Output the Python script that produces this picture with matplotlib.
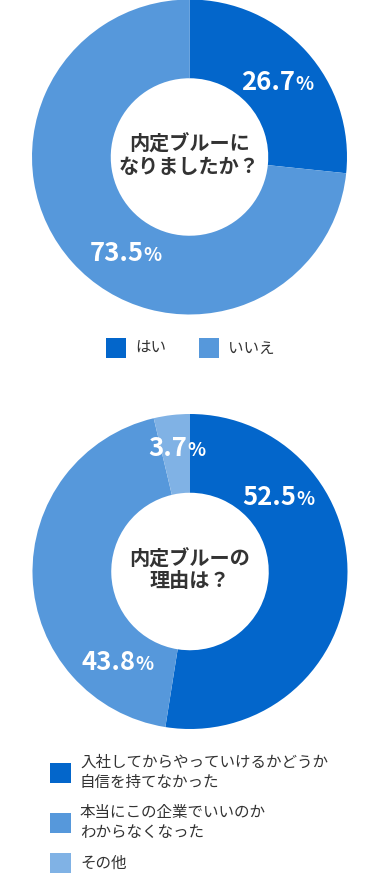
import matplotlib
matplotlib.use("Agg")
import matplotlib.pyplot as plt
from matplotlib.patches import Rectangle
from matplotlib.offsetbox import TextArea, HPacker, AnnotationBbox

plt.rcParams['font.family'] = ['Noto Sans CJK JP', 'DejaVu Sans']

# ---- data ----
q1_title = "内定ブルーに\nなりましたか？"
q1_labels = ["はい", "いいえ"]
q1_values = [26.7, 73.5]
q1_colors = ["#0366CB", "#5698DB"]

q2_title = "内定ブルーの\n理由は？"
q2_labels = ["入社してからやっていけるかどうか\n自信を持てなかった",
             "本当にこの企業でいいのか\nわからなくなった",
             "その他"]
q2_values = [52.5, 43.8, 3.7]
q2_colors = ["#0366CB", "#5698DB", "#80B2E5"]

W, H = 379, 874
DPI = 100
fig = plt.figure(figsize=(W / DPI, H / DPI), dpi=DPI)
fig.patch.set_facecolor("white")

R = 157.5


def donut(cx, cy, values, colors, title, label_pos):
    ax = fig.add_axes([(cx - R) / W, (H - cy - R) / H, 2 * R / W, 2 * R / H])
    ax.pie(values, colors=colors, startangle=90, counterclock=False,
           radius=1.0, wedgeprops=dict(width=0.5, linewidth=0))
    ax.set_xlim(-1, 1)
    ax.set_ylim(-1, 1)
    ax.set_aspect("equal")
    ax.axis("off")
    ax.text(0, 0.01, title, ha="center", va="center", fontsize=14.5,
            fontweight="bold", color="#333333", linespacing=1.05)
    for v, (x, y) in zip(values, label_pos):
        num = TextArea(f"{v:.1f}", textprops=dict(color="white", fontsize=18.5,
                                                  fontweight="bold"))
        pct = TextArea("%", textprops=dict(color="white", fontsize=13.5,
                                           fontweight="bold"))
        box = HPacker(children=[num, pct], align="baseline", pad=0, sep=0)
        ab = AnnotationBbox(box, (x, y), frameon=False, box_alignment=(0.5, 0.5),
                            xycoords="data")
        ax.add_artist(ab)
    return ax


donut(189.5, 157, q1_values, q1_colors, q1_title,
      [(0.559, 0.476), (-0.406, -0.610)])
donut(190, 571.5, q2_values, q2_colors, q2_title,
      [(0.559, 0.473), (-0.463, -0.575), (-0.083, 0.784)])

# overlay axes in pixel coordinates for legends
lax = fig.add_axes([0, 0, 1, 1])
lax.set_xlim(0, W)
lax.set_ylim(H, 0)
lax.axis("off")

# top legend (horizontal)
top_x = [106, 199]
for x, lab, col in zip(top_x, q1_labels, q1_colors):
    lax.add_patch(Rectangle((x, 338), 19.5, 20, color=col, linewidth=0))
    lax.text(x + 29, 348.5, lab, ha="left", va="center", fontsize=11.2,
             color="#333333")

# bottom legend (vertical)
bot_y = [772.5, 822.5, 863]
for y, lab, col in zip(bot_y, q2_labels, q2_colors):
    lax.add_patch(Rectangle((50, y - 10), 20.5, 20, color=col, linewidth=0))
    lax.text(80, y, lab, ha="left", va="center", fontsize=11.2,
             color="#333333", linespacing=1.2)

fig.savefig("out.png", dpi=DPI, facecolor="white")
